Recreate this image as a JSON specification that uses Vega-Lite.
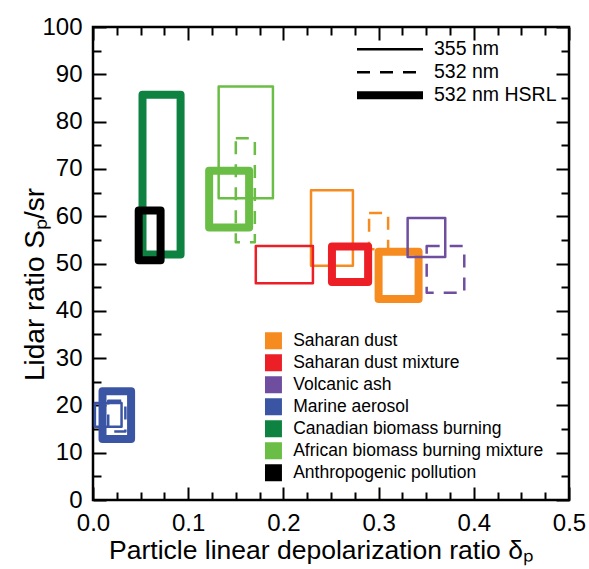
{
  "$schema": "https://vega.github.io/schema/vega-lite/v6.json",
  "width": 476,
  "height": 473,
  "autosize": "none",
  "padding": {"left": 93, "top": 27, "right": 20, "bottom": 69},
  "background": "white",
  "config": {
    "view": {"stroke": "black", "strokeWidth": 2.5},
    "font": "Liberation Sans",
    "axis": {
      "grid": false, "domain": false, "tickColor": "black", "tickWidth": 2,
      "labelColor": "black", "titleColor": "black",
      "labelFont": "Liberation Sans", "titleFont": "Liberation Sans",
      "labelFontSize": 24, "titleFontSize": 26, "titleFontWeight": "normal"
    },
    "legend": {"labelFont": "Liberation Sans", "labelColor": "black", "padding": 0, "labelLimit": 0}
  },
  "data": {
    "values": [
      {"type": "African biomass burning mixture", "wl": "355 nm", "d1": 0.132, "d2": 0.189, "s1": 63.8, "s2": 87.4},
      {"type": "African biomass burning mixture", "wl": "532 nm", "d1": 0.150, "d2": 0.170, "s1": 54.5, "s2": 76.5},
      {"type": "Saharan dust", "wl": "355 nm", "d1": 0.229, "d2": 0.273, "s1": 49.5, "s2": 65.5},
      {"type": "Saharan dust", "wl": "532 nm", "d1": 0.290, "d2": 0.310, "s1": 53.0, "s2": 60.7},
      {"type": "Saharan dust mixture", "wl": "355 nm", "d1": 0.171, "d2": 0.231, "s1": 45.8, "s2": 53.7},
      {"type": "Marine aerosol", "wl": "355 nm", "d1": 0.002, "d2": 0.030, "s1": 15.5, "s2": 20.5},
      {"type": "Marine aerosol", "wl": "532 nm", "d1": 0.016, "d2": 0.034, "s1": 14.5, "s2": 21.0},
      {"type": "Canadian biomass burning", "wl": "532 nm HSRL", "d1": 0.052, "d2": 0.092, "s1": 51.9, "s2": 85.7},
      {"type": "African biomass burning mixture", "wl": "532 nm HSRL", "d1": 0.122, "d2": 0.164, "s1": 57.6, "s2": 69.6},
      {"type": "Saharan dust mixture", "wl": "532 nm HSRL", "d1": 0.251, "d2": 0.289, "s1": 46.1, "s2": 53.6},
      {"type": "Saharan dust", "wl": "532 nm HSRL", "d1": 0.300, "d2": 0.342, "s1": 42.5, "s2": 52.5},
      {"type": "Marine aerosol", "wl": "532 nm HSRL", "d1": 0.010, "d2": 0.040, "s1": 12.9, "s2": 23.0},
      {"type": "Anthropogenic pollution", "wl": "532 nm HSRL", "d1": 0.048, "d2": 0.071, "s1": 50.7, "s2": 61.2},
      {"type": "Volcanic ash", "wl": "355 nm", "d1": 0.3305, "d2": 0.370, "s1": 51.4, "s2": 59.6},
      {"type": "Volcanic ash", "wl": "532 nm", "d1": 0.3505, "d2": 0.390, "s1": 43.8, "s2": 53.7}
    ]
  },
  "layer": [
    {
      "mark": {"type": "bar", "filled": false, "strokeJoin": "round"},
      "encoding": {
        "x": {
          "field": "d1", "type": "quantitative",
          "scale": {"domain": [0, 0.5], "nice": false, "zero": false},
          "axis": {
            "orient": "bottom",
            "values": [0,0.025,0.05,0.075,0.1,0.125,0.15,0.175,0.2,0.225,0.25,0.275,0.3,0.325,0.35,0.375,0.4,0.425,0.45,0.475,0.5],
            "labelExpr": "round(datum.value*40) % 4 == 0 ? format(datum.value, '.1f') : ''",
            "tickSize": {"condition": {"test": "round(datum.value*40) % 4 == 0", "value": -13}, "value": -8},
            "labelPadding": 24, "labelFlush": false, "labelOverlap": false, "labelBound": false,
            "title": "Particle linear depolarization ratio δₚ",
            "titleX": 228, "titleY": 58, "titleBaseline": "alphabetic", "titleFontSize": 26.5
          }
        },
        "x2": {"field": "d2"},
        "y": {
          "field": "s1", "type": "quantitative",
          "scale": {"domain": [0, 100], "nice": false, "zero": false},
          "axis": {
            "orient": "left",
            "values": [0,5,10,15,20,25,30,35,40,45,50,55,60,65,70,75,80,85,90,95,100],
            "labelExpr": "datum.value % 10 == 0 ? datum.value : ''",
            "tickSize": {"condition": {"test": "datum.value % 10 == 0", "value": -13}, "value": -8},
            "labelPadding": 24, "labelFlush": false, "labelOverlap": false, "labelBound": false,
            "title": "Lidar ratio Sₚ/sr", "titleFontSize": 28,
            "titleX": -50, "titleY": 257, "titleAngle": -90, "titleBaseline": "alphabetic", "titleAlign": "center"
          }
        },
        "y2": {"field": "s2"},
        "color": {
          "field": "type", "type": "nominal",
          "scale": {
            "domain": ["Saharan dust", "Saharan dust mixture", "Volcanic ash", "Marine aerosol", "Canadian biomass burning", "African biomass burning mixture", "Anthropogenic pollution"],
            "range": ["#F68B1F", "#EC1F26", "#6F4E9F", "#3B55A5", "#0E8241", "#6ABD45", "#000000"]
          },
          "legend": {
            "orient": "none", "legendX": 171.7, "legendY": 303, "title": null,
            "symbolType": "square", "symbolSize": 1, "symbolStrokeWidth": 16, "symbolOpacity": 1,
            "labelFontSize": 17.5, "labelOffset": 11, "clipHeight": 21.67, "rowPadding": 0
          }
        },
        "strokeDash": {
          "field": "wl", "type": "nominal",
          "scale": {"type": "ordinal", "domain": ["355 nm", "532 nm", "532 nm HSRL"], "range": [[1, 0], [13, 10], [1, 0]]},
          "legend": {
            "orient": "none", "legendX": 260, "legendY": 11, "title": null,
            "symbolType": "stroke", "symbolSize": 4356, "symbolStrokeColor": "black",
            "labelFontSize": 19.5, "labelOffset": 7, "clipHeight": 22.5, "rowPadding": 0
          }
        },
        "strokeWidth": {
          "field": "wl", "type": "nominal",
          "scale": {"type": "ordinal", "domain": ["355 nm", "532 nm", "532 nm HSRL"], "range": [2.5, 2.5, 8]},
          "legend": {
            "orient": "none", "legendX": 260, "legendY": 11, "title": null,
            "symbolType": "stroke", "symbolSize": 4356, "symbolStrokeColor": "black",
            "labelFontSize": 19.5, "labelOffset": 7, "clipHeight": 22.5, "rowPadding": 0
          }
        }
      }
    },
    {
      "mark": {"type": "bar", "opacity": 0},
      "encoding": {
        "x": {
          "field": "d1", "type": "quantitative",
          "axis": {
            "orient": "top",
            "values": [0,0.025,0.05,0.075,0.1,0.125,0.15,0.175,0.2,0.225,0.25,0.275,0.3,0.325,0.35,0.375,0.4,0.425,0.45,0.475,0.5],
            "labels": false, "title": null,
            "tickSize": {"condition": {"test": "round(datum.value*40) % 4 == 0", "value": -13}, "value": -8}
          }
        },
        "x2": {"field": "d2"},
        "y": {
          "field": "s1", "type": "quantitative",
          "axis": {
            "orient": "right",
            "values": [0,5,10,15,20,25,30,35,40,45,50,55,60,65,70,75,80,85,90,95,100],
            "labels": false, "title": null,
            "tickSize": {"condition": {"test": "datum.value % 10 == 0", "value": -13}, "value": -8}
          }
        },
        "y2": {"field": "s2"}
      }
    }
  ],
  "resolve": {"axis": {"x": "independent", "y": "independent"}}
}
